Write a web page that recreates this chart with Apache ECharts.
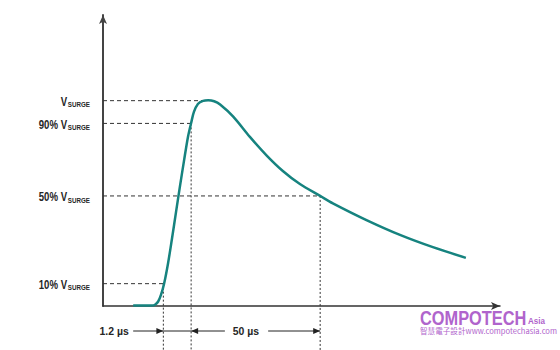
<!DOCTYPE html>
<html>
<head>
<meta charset="utf-8">
<script src="https://cdn.jsdelivr.net/npm/echarts@6/dist/echarts.min.js"></script>
<style>
html,body{margin:0;padding:0;background:#fff;}
#chart{width:560px;height:350px;}
</style>
</head>
<body>
<div id="chart"></div>
<script>
// ---- data (time in arbitrary units 0..100, voltage in % of V_SURGE) ----
const curveTime    = [7.6, 12.3, 13.1, 13.9, 14.6, 15.4, 16.4, 17.4, 18.4, 19.4, 20.4, 21.4, 22.2, 22.9, 23.9, 25.2, 26.5, 28.0, 29.5, 32.8, 37.0, 41.3, 45.3, 49.6, 54.7, 57.9, 66.5, 74.8, 83.1, 91.4];
const curveVoltage = [0.3, 0.2, 0.6, 2.2, 5.4, 11.0, 21.0, 33.2, 45.9, 58.6, 70.8, 82.5, 89.3, 94.7, 98.6, 100.1, 100.4, 99.9, 98.3, 92.4, 82.5, 73.3, 65.9, 59.5, 53.7, 50.1, 41.8, 34.7, 28.7, 23.5];

const levelNames   = ['', '90% ', '50% ', '10% '];
const levelValues  = [100.2, 89.1, 53.7, 10.9];
const levelTimes   = [26.5, 22.2, 54.7, 15.2];
const levelDrop    = [false, true, true, true];
const bottomValue  = -21.5;

const spanLabels   = ['1.2 µs', '50 µs'];
const spanLabelAt  = [2.8, 36.0];
const spanValue    = -12.2;
const riseArrow    = [7.6, 15.2, 22.2];
const decayArrow   = [30.7, 22.2, 41.6, 54.7];

const FONT = '"Liberation Sans", Arial, sans-serif';
const teal = '#16837f';
const ink = '#262626';
const brand = '#b064cc';

const chart = echarts.init(document.getElementById('chart'), null, {renderer: 'svg'});

const series = [];
levelValues.forEach(function (v, i) {
  series.push({
    type: 'line', silent: true, animation: false, showSymbol: false, clip: false,
    data: [[0, v], [levelTimes[i], v]],
    lineStyle: {color: '#333', width: 1, type: [4, 3]}
  });
  if (levelDrop[i]) {
    series.push({
      type: 'line', silent: true, animation: false, showSymbol: false, clip: false,
      data: [[levelTimes[i], v], [levelTimes[i], bottomValue]],
      lineStyle: {color: '#333', width: 1, type: [2, 2]}
    });
  }
});
series.push({
  type: 'line', silent: true, animation: false, showSymbol: false, smooth: 0.3,
  data: curveTime.map(function (t, i) { return [t, curveVoltage[i]]; }),
  lineStyle: {color: teal, width: 2.5}, z: 5
});
function head(p, dir) {
  return {type: 'polygon', shape: {points: [[p[0], p[1]], [p[0] - 7 * dir, p[1] - 3], [p[0] - 7 * dir, p[1] + 3]]}, style: {fill: '#222'}};
}
series.push({
  type: 'custom', silent: true, animation: false, clip: false,
  data: [[0, 0]],
  renderItem: function (params, api) {
    const a0 = api.coord([riseArrow[0], spanValue]);
    const a1 = api.coord([riseArrow[1], spanValue]);
    const a2 = api.coord([riseArrow[2], spanValue]);
    const b0 = api.coord([decayArrow[0], spanValue]);
    const b1 = api.coord([decayArrow[1], spanValue]);
    const c0 = api.coord([decayArrow[2], spanValue]);
    const c1 = api.coord([decayArrow[3], spanValue]);
    const ls = {stroke: '#222', lineWidth: 1};
    const children = [
      {type: 'line', shape: {x1: a0[0], y1: a0[1], x2: a2[0], y2: a2[1]}, style: ls},
      head(a1, 1),
      {type: 'line', shape: {x1: b0[0], y1: b0[1], x2: b1[0], y2: b1[1]}, style: ls},
      head(b1, -1),
      {type: 'line', shape: {x1: c0[0], y1: c0[1], x2: c1[0], y2: c1[1]}, style: ls},
      head(c1, 1)
    ];
    spanLabels.forEach(function (s, i) {
      const p = api.coord([spanLabelAt[i], spanValue]);
      children.push({type: 'text', x: p[0], y: p[1], scaleX: 0.95, style: {text: s, fill: ink, font: 'bold 11px ' + FONT, align: 'center', verticalAlign: 'middle'}});
    });
    levelValues.forEach(function (v, i) {
      const p = api.coord([0, v]);
      children.push({
        type: 'text', x: p[0] - 13, y: p[1] + 1, scaleX: 0.8,
        style: {
          text: '{b|' + levelNames[i] + 'V}{s|SURGE}', align: 'right', verticalAlign: 'middle',
          rich: {
            b: {font: 'bold 12px ' + FONT, fill: ink, lineHeight: 14, verticalAlign: 'middle'},
            s: {font: 'bold 7.8px ' + FONT, fill: ink, lineHeight: 14, verticalAlign: 'bottom', padding: [0, 0, 0, 1]}
          }
        }
      });
    });
    return {type: 'group', children: children};
  }
});

chart.setOption({
  animation: false,
  grid: {left: 103, right: 60, top: 15, bottom: 44},
  xAxis: {
    type: 'value', min: 0, max: 100,
    axisLine: {show: true, symbol: ['none', 'arrow'], symbolSize: [6, 9], lineStyle: {color: '#333', width: 1.5}},
    axisTick: {show: false}, axisLabel: {show: false}, splitLine: {show: false}
  },
  yAxis: {
    type: 'value', min: 0, max: 142,
    axisLine: {show: true, symbol: ['none', 'arrow'], symbolSize: [6, 9], lineStyle: {color: '#444', width: 2}},
    axisTick: {show: false}, splitLine: {show: false}, axisLabel: {show: false}
  },
  graphic: [
    {type: 'text', x: 420, y: 308, scaleX: 0.84, silent: true, style: {text: 'COMPOTECH', font: 'bold 19.5px ' + FONT, fill: brand}},
    {type: 'text', x: 528, y: 316, scaleX: 0.85, silent: true, style: {text: 'Asia', font: 'bold 9.5px ' + FONT, fill: brand}},
    {type: 'text', x: 420, y: 327, silent: true, style: {text: '智慧電子設計www.compotechasia.com', font: '7.6px "Noto Sans CJK TC", sans-serif', fill: brand}}
  ],
  series: series
});
</script>
</body>
</html>
